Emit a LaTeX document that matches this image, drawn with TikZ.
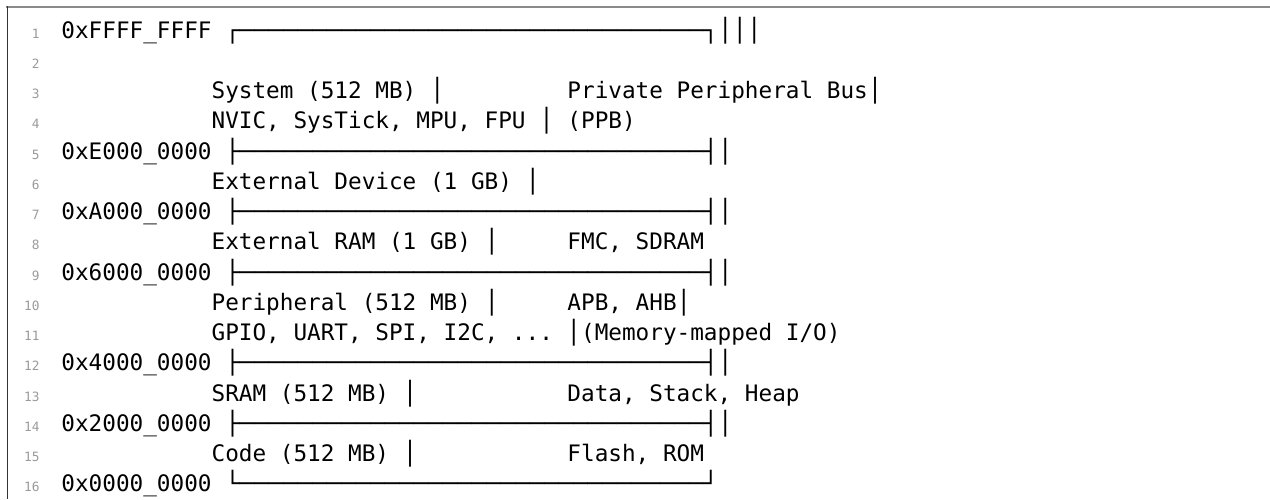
\documentclass[tikz,border=0pt]{standalone}
\usepackage{fontspec}
\usepackage{graphicx}
\setmonofont{DejaVu Sans Mono}
\definecolor{numgray}{HTML}{9A9A9A}
\definecolor{framegray}{HTML}{8A8A8A}
\definecolor{rulegray}{HTML}{333333}
\newcommand\codesize{\ttfamily\fontsize{11.34pt}{15pt}\selectfont}
\newcommand\numsize{\ttfamily\fontsize{6.4pt}{8pt}\selectfont}
\newcommand\gap[1]{\setbox0\hbox{0}\hspace*{#1\wd0}}
\newcommand\bx[1]{\scalebox{1.062}[1]{#1}}
\tikzset{
	codeline/.style={
		anchor=base west,
		inner sep=0pt,
		font=\codesize
	},
	lineno/.style={
		anchor=base east,
		inner sep=0pt,
		font=\numsize,
		text=numgray
	}
}

\begin{document}
\begin{tikzpicture}[x=0.5pt, y=-0.5pt]
	\useasboundingbox (0,0) rectangle (1270,499);
	\def\pitch{30.23}
	% frame of the listing
	\draw[framegray, line width=1pt] (6,6.7) -- (1270,6.7);
	\draw[rulegray, line width=0.75pt] (7.3,6.2) -- (7.3,499);
	\foreach \n in {1,...,16} {
		\node[lineno] (n\n) at (40, {38.3+(\n-1)*\pitch}) {\n};
		\coordinate (c\n) at (61, {38.3+(\n-1)*\pitch});
	}
	% memory map, one node per line
	\node[codeline] (l1) at (c1) {0xFFFF\_FFFF \bx{┌────────────────────────────────┐│││}};
	\node[codeline] (l3) at (c3) {\gap{11}System (512 MB) \bx{│}\gap{9}Private Peripheral Bus\bx{│}};
	\node[codeline] (l4) at (c4) {\gap{11}NVIC, SysTick, MPU, FPU \bx{│} (PPB)};
	\node[codeline] (l5) at (c5) {0xE000\_0000 \bx{├────────────────────────────────┤│}};
	\node[codeline] (l6) at (c6) {\gap{11}External Device (1 GB) \bx{│}};
	\node[codeline] (l7) at (c7) {0xA000\_0000 \bx{├────────────────────────────────┤│}};
	\node[codeline] (l8) at (c8) {\gap{11}External RAM (1 GB) \bx{│}\gap{5}FMC, SDRAM};
	\node[codeline] (l9) at (c9) {0x6000\_0000 \bx{├────────────────────────────────┤│}};
	\node[codeline] (l10) at (c10) {\gap{11}Peripheral (512 MB) \bx{│}\gap{5}APB, AHB\bx{│}};
	\node[codeline] (l11) at (c11) {\gap{11}GPIO, UART, SPI, I2C, ... \bx{│}(Memory-mapped I/O)};
	\node[codeline] (l12) at (c12) {0x4000\_0000 \bx{├────────────────────────────────┤│}};
	\node[codeline] (l13) at (c13) {\gap{11}SRAM (512 MB) \bx{│}\gap{11}Data, Stack, Heap};
	\node[codeline] (l14) at (c14) {0x2000\_0000 \bx{├────────────────────────────────┤│}};
	\node[codeline] (l15) at (c15) {\gap{11}Code (512 MB) \bx{│}\gap{11}Flash, ROM};
	\node[codeline] (l16) at (c16) {0x0000\_0000 \bx{└────────────────────────────────┘}};
\end{tikzpicture}
\end{document}
